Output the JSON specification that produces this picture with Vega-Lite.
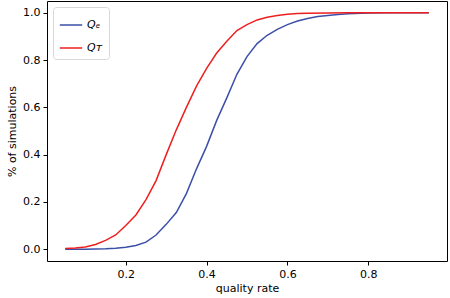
{
  "$schema": "https://vega.github.io/schema/vega-lite/v6.json",
  "width": 400,
  "height": 260,
  "autosize": "none",
  "padding": {"left": 47, "top": 1, "right": 3, "bottom": 37},
  "background": "white",
  "config": {
    "view": {"stroke": "black", "strokeWidth": 1},
    "font": "DejaVu Sans",
    "axis": {
      "grid": false,
      "domain": false,
      "tickColor": "black",
      "tickSize": 4,
      "labelColor": "black",
      "labelFont": "DejaVu Sans",
      "labelFontSize": 11,
      "titleFont": "DejaVu Sans",
      "titleFontSize": 11,
      "titleFontWeight": "normal",
      "titleColor": "black"
    }
  },
  "data": {
    "values": [
      {"q": 0.05, "p": 0.000, "s": "Qₑ"},
      {"q": 0.075, "p": 0.000, "s": "Qₑ"},
      {"q": 0.1, "p": 0.000, "s": "Qₑ"},
      {"q": 0.125, "p": 0.001, "s": "Qₑ"},
      {"q": 0.15, "p": 0.002, "s": "Qₑ"},
      {"q": 0.175, "p": 0.004, "s": "Qₑ"},
      {"q": 0.2, "p": 0.008, "s": "Qₑ"},
      {"q": 0.225, "p": 0.016, "s": "Qₑ"},
      {"q": 0.25, "p": 0.030, "s": "Qₑ"},
      {"q": 0.275, "p": 0.060, "s": "Qₑ"},
      {"q": 0.3, "p": 0.105, "s": "Qₑ"},
      {"q": 0.325, "p": 0.155, "s": "Qₑ"},
      {"q": 0.35, "p": 0.235, "s": "Qₑ"},
      {"q": 0.375, "p": 0.340, "s": "Qₑ"},
      {"q": 0.4, "p": 0.435, "s": "Qₑ"},
      {"q": 0.425, "p": 0.545, "s": "Qₑ"},
      {"q": 0.45, "p": 0.640, "s": "Qₑ"},
      {"q": 0.475, "p": 0.740, "s": "Qₑ"},
      {"q": 0.5, "p": 0.815, "s": "Qₑ"},
      {"q": 0.525, "p": 0.870, "s": "Qₑ"},
      {"q": 0.55, "p": 0.905, "s": "Qₑ"},
      {"q": 0.575, "p": 0.930, "s": "Qₑ"},
      {"q": 0.6, "p": 0.950, "s": "Qₑ"},
      {"q": 0.625, "p": 0.965, "s": "Qₑ"},
      {"q": 0.65, "p": 0.976, "s": "Qₑ"},
      {"q": 0.675, "p": 0.984, "s": "Qₑ"},
      {"q": 0.7, "p": 0.989, "s": "Qₑ"},
      {"q": 0.725, "p": 0.993, "s": "Qₑ"},
      {"q": 0.75, "p": 0.996, "s": "Qₑ"},
      {"q": 0.8, "p": 0.999, "s": "Qₑ"},
      {"q": 0.85, "p": 1.000, "s": "Qₑ"},
      {"q": 0.9, "p": 1.000, "s": "Qₑ"},
      {"q": 0.95, "p": 1.000, "s": "Qₑ"},
      {"q": 0.05, "p": 0.003, "s": "Qᴛ"},
      {"q": 0.075, "p": 0.005, "s": "Qᴛ"},
      {"q": 0.1, "p": 0.009, "s": "Qᴛ"},
      {"q": 0.125, "p": 0.020, "s": "Qᴛ"},
      {"q": 0.15, "p": 0.037, "s": "Qᴛ"},
      {"q": 0.175, "p": 0.060, "s": "Qᴛ"},
      {"q": 0.2, "p": 0.100, "s": "Qᴛ"},
      {"q": 0.225, "p": 0.145, "s": "Qᴛ"},
      {"q": 0.25, "p": 0.210, "s": "Qᴛ"},
      {"q": 0.275, "p": 0.290, "s": "Qᴛ"},
      {"q": 0.3, "p": 0.400, "s": "Qᴛ"},
      {"q": 0.325, "p": 0.505, "s": "Qᴛ"},
      {"q": 0.35, "p": 0.600, "s": "Qᴛ"},
      {"q": 0.375, "p": 0.690, "s": "Qᴛ"},
      {"q": 0.4, "p": 0.765, "s": "Qᴛ"},
      {"q": 0.425, "p": 0.830, "s": "Qᴛ"},
      {"q": 0.45, "p": 0.880, "s": "Qᴛ"},
      {"q": 0.475, "p": 0.925, "s": "Qᴛ"},
      {"q": 0.5, "p": 0.950, "s": "Qᴛ"},
      {"q": 0.525, "p": 0.970, "s": "Qᴛ"},
      {"q": 0.55, "p": 0.981, "s": "Qᴛ"},
      {"q": 0.575, "p": 0.989, "s": "Qᴛ"},
      {"q": 0.6, "p": 0.994, "s": "Qᴛ"},
      {"q": 0.625, "p": 0.997, "s": "Qᴛ"},
      {"q": 0.65, "p": 0.998, "s": "Qᴛ"},
      {"q": 0.7, "p": 0.999, "s": "Qᴛ"},
      {"q": 0.75, "p": 1.000, "s": "Qᴛ"},
      {"q": 0.8, "p": 1.000, "s": "Qᴛ"},
      {"q": 0.85, "p": 1.000, "s": "Qᴛ"},
      {"q": 0.9, "p": 1.000, "s": "Qᴛ"},
      {"q": 0.95, "p": 1.000, "s": "Qᴛ"}
    ]
  },
  "mark": {"type": "line", "strokeWidth": 1.5},
  "encoding": {
    "x": {
      "field": "q",
      "type": "quantitative",
      "title": "quality rate",
      "scale": {"domain": [0.005, 0.995], "nice": false, "zero": false},
      "axis": {"values": [0.2, 0.4, 0.6, 0.8], "format": ".1f", "titlePadding": 3, "labelPadding": 3}
    },
    "y": {
      "field": "p",
      "type": "quantitative",
      "title": "% of simulations",
      "scale": {"domain": [-0.05, 1.05], "nice": false, "zero": false},
      "axis": {"values": [0, 0.2, 0.4, 0.6, 0.8, 1.0], "format": ".1f", "titlePadding": 5, "labelPadding": 3}
    },
    "color": {
      "field": "s",
      "type": "nominal",
      "scale": {"domain": ["Qₑ", "Qᴛ"], "range": ["#3a4fa8", "#ee1f1f"]},
      "legend": {
        "title": null,
        "orient": "top-left",
        "offset": 6,
        "symbolType": "stroke",
        "symbolSize": 500,
        "symbolStrokeWidth": 1.5,
        "labelFont": "DejaVu Sans",
        "labelFontStyle": "italic",
        "labelFontSize": 11,
        "labelColor": "black",
        "rowPadding": 6,
        "padding": 6,
        "fillColor": "white",
        "strokeColor": "#d8d8d8",
        "cornerRadius": 3
      }
    }
  }
}
